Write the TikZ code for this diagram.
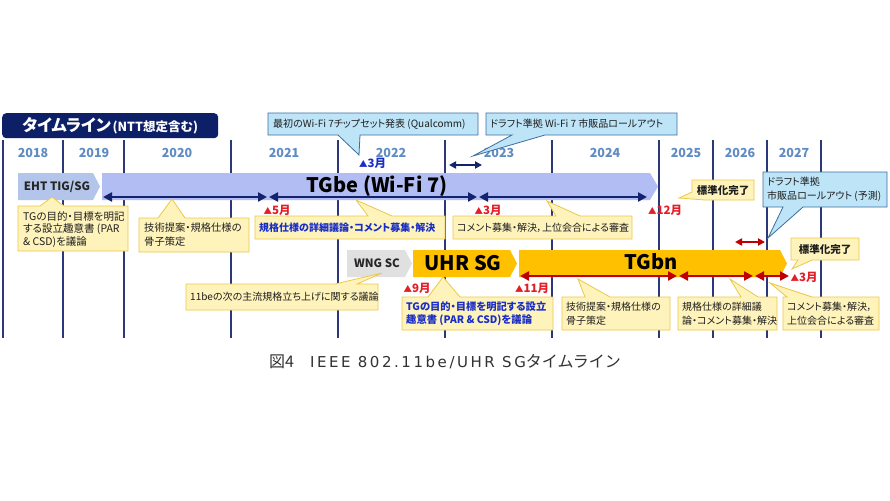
\documentclass[tikz,border=0pt]{standalone}
\usepackage{fontspec}
\setmainfont{Noto Sans CJK JP}[RawFeature=+palt]
\newfontfamily\capjp{Noto Sans CJK JP}
\newfontfamily\caplat{DejaVu Sans}[LetterSpace=17]
\usetikzlibrary{arrows.meta}
\definecolor{titlec}{RGB}{13,31,102}
\definecolor{vlinec}{RGB}{42,56,122}
\definecolor{yearc}{RGB}{95,140,195}
\definecolor{ehtc}{RGB}{180,197,235}
\definecolor{tgbec}{RGB}{178,189,243}
\definecolor{wngc}{RGB}{224,224,224}
\definecolor{orc}{RGB}{255,192,0}
\definecolor{navc}{RGB}{20,35,110}
\definecolor{redc}{RGB}{192,0,0}
\definecolor{redt}{RGB}{228,30,40}
\definecolor{bluet}{RGB}{25,45,200}
\definecolor{yfillc}{RGB}{255,243,188}
\definecolor{ylinec}{RGB}{236,200,72}
\definecolor{bfillc}{RGB}{190,228,248}
\definecolor{blinec}{RGB}{60,110,160}
\definecolor{txtc}{RGB}{30,30,30}
\definecolor{capc}{RGB}{50,50,50}
\newcommand\fsz[2]{\fontsize{#1}{#2}\selectfont}
\newcommand\mytri{{\fontsize{8.5}{9}\selectfont ▲}}
\tikzset{
  vline/.style={draw=vlinec, line width=1.3pt},
  yearlbl/.style={font=\fsz{12.5}{14}\bfseries, text=yearc},
  barlbl/.style={font=\fsz{20}{22}\bfseries, text=black},
  smlbl/.style={font=\fsz{11.5}{14}\bfseries, text=black!85},
  mon/.style={font=\fsz{11.5}{13}\bfseries, text=redt, inner sep=0pt},
  ycall/.style={draw=ylinec, fill=yfillc, line width=0.8pt},
  bcall/.style={draw=blinec, fill=bfillc, line width=0.8pt},
  ctext/.style={inner sep=0pt, align=left, text=txtc, anchor=west},
  navarr/.style={draw=navc, line width=2.6pt, arrows={Triangle[length=9pt,width=9pt]-Triangle[length=9pt,width=9pt]}},
  navsm/.style={draw=navc, line width=2pt, arrows={Triangle[length=7pt,width=7pt]-Triangle[length=7pt,width=7pt]}},
  redarr/.style={draw=redc, line width=2.6pt, arrows={Triangle[length=9pt,width=9pt]-Triangle[length=9pt,width=9pt]}},
  redsm/.style={draw=redc, line width=2pt, arrows={Triangle[length=7pt,width=7pt]-Triangle[length=7pt,width=7pt]}},
}
\begin{document}
\begin{tikzpicture}[x=1pt,y=-1pt]
\useasboundingbox[fill=white] (0,0) rectangle (890,500);

% title banner
\node[fill=titlec, rounded corners=4pt, minimum width=216pt, minimum height=25pt, anchor=north west, inner sep=0pt, text=white] (title) at (2,113)
  {{\fsz{16.5}{17}\bfseries タイムライン}\,{\fsz{12.5}{14}\bfseries (NTT想定含む)}};

% vertical year separators
\foreach \x in {3,63,124,231,338,445,552,659,713,767,821}
  \draw[vline] (\x,140) -- (\x,338);

% year labels
\node[yearlbl] (y2018) at (33,153) {2018};
\node[yearlbl] (y2019) at (94,153) {2019};
\node[yearlbl] (y2020) at (177,153) {2020};
\node[yearlbl] (y2021) at (284,153) {2021};
\node[yearlbl] (y2022) at (391,153) {2022};
\node[yearlbl] (y2023) at (499,153) {2023};
\node[yearlbl] (y2024) at (605,153) {2024};
\node[yearlbl] (y2025) at (686,153) {2025};
\node[yearlbl] (y2026) at (740,153) {2026};
\node[yearlbl] (y2027) at (794,153) {2027};

% bars
\fill[ehtc] (18,173) -- (93,173) -- (100,186.5) -- (93,200) -- (18,200) -- cycle;
\node[smlbl] (eht) at (57,186.5) {EHT TIG/SG};
\fill[tgbec] (102,173) -- (650,173) -- (658,186.5) -- (650,200) -- (102,200) -- cycle;
\node[barlbl] (tgbe) at (377,186) {TGbe (Wi-Fi 7)};
\fill[wngc] (347,250) -- (405,250) -- (412,263.5) -- (405,277) -- (347,277) -- cycle;
\node[smlbl] (wng) at (377,263.5) {WNG SC};
\fill[orc] (413,250) -- (510,250) -- (517,263.5) -- (510,277) -- (413,277) -- cycle;
\node[barlbl] (uhr) at (463,263) {UHR SG};
\fill[orc] (519,250) -- (780,250) -- (787,263.5) -- (780,277) -- (519,277) -- cycle;
\node[barlbl] (tgbn) at (651,262) {TGbn};

% blue callouts
\path[bcall] (268,113) -- (478,113) -- (478,135) -- (360,135) -- (359,155) -- (338,135) -- (268,135) -- cycle;
\node[ctext, font=\fsz{10}{12}] (b1) at (273,124) {最初のWi-Fi 7チップセット発表 (Qualcomm)};
\path[bcall] (486,113) -- (677,113) -- (677,135) -- (545,135) -- (473,156) -- (512,135) -- (486,135) -- cycle;
\node[ctext, font=\fsz{10}{12}] (b2) at (490,124) {ドラフト準拠 Wi-Fi 7 市販品ロールアウト};
\path[bcall] (763,172) -- (887,172) -- (887,207) -- (803,207) -- (768,238) -- (783,207) -- (763,207) -- cycle;
\node[ctext, font=\fsz{10}{13.5}] (b3) at (767,189.5) {ドラフト準拠\\市販品ロールアウト (予測)};

% yellow callouts
\path[ycall] (18,206) -- (40,206) -- (52,197) -- (64,206) -- (128,206) -- (128,251) -- (18,251) -- cycle;
\node[ctext, font=\fsz{10.5}{12.6}] (c1) at (23,229.5) {TGの目的・目標を明記\\する設立趣意書 (PAR\\\& CSD)を議論};
\path[ycall] (139,218) -- (158,218) -- (172,199) -- (185,218) -- (249,218) -- (249,252) -- (139,252) -- cycle;
\node[ctext, font=\fsz{10.3}{14}] (c2) at (144,235) {技術提案・規格仕様の\\骨子策定};
\path[ycall] (255,216) -- (368,216) -- (356,200) -- (392,216) -- (445,216) -- (445,239) -- (255,239) -- cycle;
\node[ctext, font=\fsz{10}{12}\bfseries, text=bluet] (c3) at (259,227.5) {規格仕様の詳細議論・コメント募集・解決};
\path[ycall] (453,216) -- (556,216) -- (547,201) -- (580,216) -- (632,216) -- (632,239) -- (453,239) -- cycle;
\node[ctext, font=\fsz{10}{12}] (c4) at (457,227.5) {コメント募集・解決，上位会合による審査};
\path[ycall] (692,180) -- (754,180) -- (754,200) -- (705,200) -- (679,198) -- (692,192) -- cycle;
\node[inner sep=0pt, font=\fsz{10.5}{12}\bfseries, text=txtc] (c5) at (723,190) {標準化完了};
\path[ycall] (186,284) -- (335,284) -- (382,273) -- (357,284) -- (378,284) -- (378,310) -- (186,310) -- cycle;
\node[ctext, font=\fsz{10}{12}] (c6) at (190,297) {11beの次の主流規格立ち上げに関する議論};
\path[ycall] (402,297) -- (428,297) -- (443,277) -- (460,297) -- (553,297) -- (553,330) -- (402,330) -- cycle;
\node[ctext, font=\fsz{10.3}{13.5}\bfseries, text=bluet] (c7) at (406,313.5) {TGの目的・目標を明記する設立\\趣意書 (PAR \& CSD)を議論};
\path[ycall] (562,297) -- (585,297) -- (578,279) -- (610,297) -- (670,297) -- (670,330) -- (562,330) -- cycle;
\node[ctext, font=\fsz{10}{14}] (c8) at (566,313.5) {技術提案・規格仕様の\\骨子策定};
\path[ycall] (678,297) -- (741,297) -- (730,279) -- (758,297) -- (777,297) -- (777,330) -- (678,330) -- cycle;
\node[ctext, font=\fsz{10}{14}] (c9) at (682,313.5) {規格仕様の詳細議\\論・コメント募集・解決};
\path[ycall] (783,297) -- (787,297) -- (770,283) -- (812,297) -- (879,297) -- (879,330) -- (783,330) -- cycle;
\node[ctext, font=\fsz{10}{14}] (c10) at (787,313.5) {コメント募集・解決，\\上位会合による審査};
\path[ycall] (791,238) -- (859,238) -- (859,260) -- (812,260) -- (792,269) -- (798,260) -- (791,260) -- cycle;
\node[inner sep=0pt, font=\fsz{10.5}{12}\bfseries, text=txtc] (c11) at (825,249) {標準化完了};

% navy arrows (TGbe phases)
\coordinate (na0) at (103,197);
\coordinate (na1) at (267,197);
\coordinate (nb0) at (269,197);
\coordinate (nb1) at (477,197);
\coordinate (nc0) at (479,197);
\coordinate (nc1) at (647,197);
\draw[navarr] (na0) -- (na1);
\draw[navarr] (nb0) -- (nb1);
\draw[navarr] (nc0) -- (nc1);
\coordinate (ns0) at (449,165);
\coordinate (ns1) at (482,165);
\draw[navsm] (ns0) -- (ns1);

% red arrows (TGbn phases)
\coordinate (ra0) at (520,276);
\coordinate (ra1) at (677,276);
\coordinate (rb0) at (679,276);
\coordinate (rb1) at (753,276);
\coordinate (rc0) at (755,276);
\coordinate (rc1) at (789,276);
\draw[redarr] (ra0) -- (ra1);
\draw[redarr] (rb0) -- (rb1);
\draw[redarr] (rc0) -- (rc1);
\coordinate (rs0) at (735,242);
\coordinate (rs1) at (765,242);
\draw[redsm] (rs0) -- (rs1);

% month markers
\node[mon, text=bluet] (m1) at (372.5,163) {\mytri 3月};
\node[mon] (m2) at (277,210) {\mytri 5月};
\node[mon] (m3) at (488,210) {\mytri 3月};
\node[mon] (m4) at (665,210) {\mytri 12月};
\node[mon] (m5) at (417,288) {\mytri 9月};
\node[mon] (m6) at (532,288) {\mytri 11月};
\node[mon] (m7) at (804,277) {\mytri 3月};

% caption
\node[font=\fsz{16}{18}, text=capc, inner sep=0pt] (cap) at (445,362)
  {{\capjp 図4　}{\caplat\fontsize{15}{18}\selectfont IEEE 802.11be/UHR SG}{\capjp タイムライン}};
\end{tikzpicture}
\end{document}
